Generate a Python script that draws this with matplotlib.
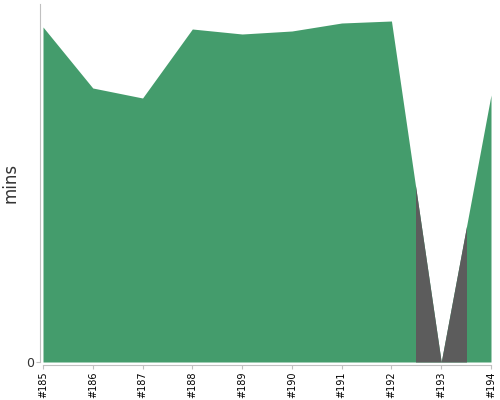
import numpy as np
import matplotlib.pyplot as plt
from matplotlib.patches import Rectangle

builds = [185, 186, 187, 188, 189, 190, 191, 192, 193, 194]
mins = [33.5, 27.4, 26.4, 33.3, 32.8, 33.1, 33.9, 34.1, 0.0, 26.7]
failed = [193]

green = "#449c6c"
grey = "#5c5c5c"
spine = "#c0c0c0"

fig = plt.figure(figsize=(5, 4), dpi=100)
ax = fig.add_axes([0.086, 0.095, 0.896, 0.895])

x = np.array(builds)
y = np.array(mins)
ax.fill_between(x, 0, y, color=green, lw=0)

# failed builds get a grey band around their point
for b in failed:
    area = ax.fill_between(x, 0, y, color=grey, lw=0)
    clip = Rectangle((b - 0.5, 0), 1, 100, transform=ax.transData)
    area.set_clip_path(clip)

ax.set_xlim(builds[0], builds[-1])
ax.set_ylim(0, 35.8)
ax.set_xticks(builds)
ax.set_xticklabels(["#%d" % b for b in builds])
ax.set_yticks([0])
ax.tick_params(axis="y", labelsize=9, length=3, color=spine, labelcolor="#333333", pad=1)
ax.tick_params(axis="x", length=3, color=spine, labelrotation=90, labelsize=7, pad=1.5)
ax.set_ylabel("mins", fontsize=12, color="#333333")
ax.yaxis.set_label_coords(-0.053, 0.5)

for s in ["top", "right"]:
    ax.spines[s].set_visible(False)
for s in ["left", "bottom"]:
    ax.spines[s].set_color(spine)
    ax.spines[s].set_position(("outward", 2.5))

fig.savefig("out.png")
